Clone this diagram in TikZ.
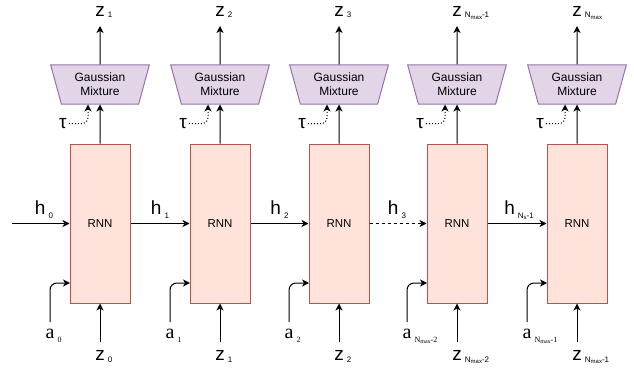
\documentclass[tikz,border=0pt]{standalone}
\usepackage{fontspec}
\setmainfont{Liberation Sans}
\newfontfamily\serifa{Liberation Serif}
\usetikzlibrary{arrows.meta,shapes.geometric}
\definecolor{rnnfill}{HTML}{FFE3DB}
\definecolor{rnndraw}{HTML}{B85450}
\definecolor{gmfill}{HTML}{E1D5E7}
\definecolor{gmdraw}{HTML}{9673A6}
\newcommand{\sbs}[2][1.5pt]{\hspace{3pt}\raisebox{-#1}{\fontsize{8}{8}\selectfont #2}}
\newcommand{\Nm}{N\raisebox{-1.3pt}{\fontsize{6}{6}\selectfont max}}
\newcommand{\Ns}{N\raisebox{-1.3pt}{\fontsize{6}{6}\selectfont s}}
\begin{document}
\begin{tikzpicture}[x=1pt,y=-1pt,
  rnn/.style={draw=rnndraw, fill=rnnfill, line width=1pt, minimum width=60, minimum height=159, inner sep=0, font=\fontsize{11.5}{12}\selectfont},
  gm/.style={trapezium, shape border rotate=180, trapezium stretches=true, trapezium angle=72.9,
     draw=gmdraw, fill=gmfill, line width=1pt, minimum width=99, minimum height=39, inner sep=0,
     align=center, font=\fontsize{12}{14}\selectfont},
  arr/.style={-{Stealth[length=7pt,width=7pt,inset=2pt]}, line width=1pt},
  big/.style={font=\fontsize{19}{19}\selectfont, inner sep=0},
  bigs/.style={font=\fontsize{20}{20}\selectfont\serifa, inner sep=0},
  tau/.style={font=\fontsize{19}{19}\selectfont, inner sep=2pt},
  hdash/.style={dash pattern=on 3pt off 3pt}
]
\useasboundingbox (0,0) rectangle (634,369);
\foreach \i/\x/\zt/\za/\zb in {
  1/100/{1}/{0}/{0},
  2/220/{2}/{1}/{1},
  3/339/{3}/{2}/{2},
  4/457/{\Nm-1}/{\Nm-2}/{\Nm-2},
  5/577/{\Nm}/{\Nm-1}/{\Nm-1}}{
  \node[rnn] (r\i) at (\x,223.5) {RNN};
  \node[gm] (g\i) at (\x,84.5) {Gaussian\\Mixture};
  \coordinate (zt\i) at (\x,26);
  \draw[arr] (r\i.north) -- (g\i.south);
  \draw[arr] (g\i.north) -- (zt\i);
  \node[big, anchor=base west] (zl\i) at (\x-4.75,17) {z\sbs[1pt]{\zt}};
  % tau
  \node[tau] (t\i) at (\x-37,123.5) {τ};
  \coordinate (tt\i) at (\x-12,104.5);
  \draw[arr, dotted, rounded corners=6] (t\i.east) -| (tt\i);
  % a input
  \coordinate (as\i) at (\x-50,322);
  \coordinate (ai\i) at (\x-30,283);
  \draw[arr, rounded corners=7] (as\i) |- (ai\i);
  \node[bigs, anchor=base west] (al\i) at (\x-54.5,338) {a\sbs[4pt]{\za}};
  % z input
  \coordinate (zs\i) at (\x,342);
  \draw[arr] (zs\i) -- (r\i.south);
  \node[big, anchor=base west] (zb\i) at (\x-4.75,360) {z\sbs[2pt]{\zb}};
}
\coordinate (h0s) at (12,223.5);
\draw[arr] (h0s) -- (r1.west);
\draw[arr] (r1.east) -- (r2.west);
\draw[arr] (r2.east) -- (r3.west);
\draw[arr, hdash] (r3.east) -- (r4.west);
\draw[arr] (r4.east) -- (r5.west);
\node[big, anchor=base] (h0) at (44,214) {h\sbs[4.5pt]{0}};
\node[big, anchor=base] (h1) at (160,214) {h\sbs[4.5pt]{1}};
\node[big, anchor=base] (h2) at (279.5,214) {h\sbs[4.5pt]{2}};
\node[big, anchor=base] (h3) at (397,214) {h\sbs[4.5pt]{3}};
\node[big, anchor=base] (h4) at (519,214) {h\sbs[4.5pt]{\Ns-1}};
\end{tikzpicture}
\end{document}
